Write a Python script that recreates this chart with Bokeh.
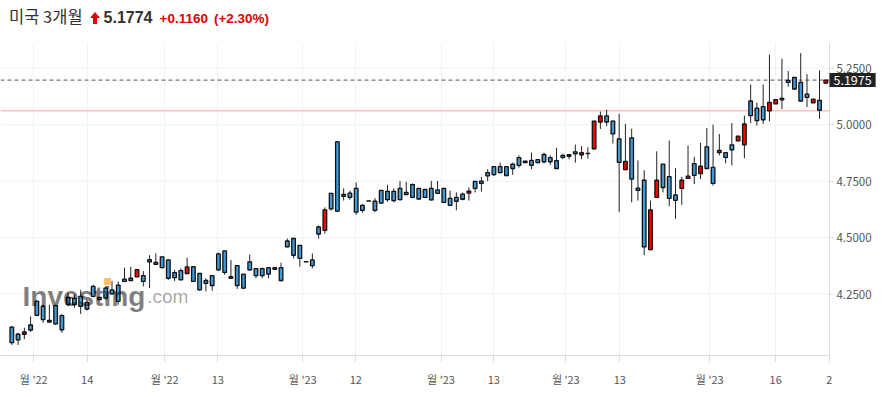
from bokeh.plotting import figure
from bokeh.models import (Label, Div, FixedTicker, NumeralTickFormatter, Range1d,
                          ColumnDataSource, LinearAxis)
from bokeh.layouts import column
from bokeh.embed import file_html
from bokeh.resources import INLINE

# ---- data (daily candles, oldest -> newest) ----
opens = [4.104, 4.072, 4.072, 4.113, 4.218, 4.196, 4.133, 4.199, 4.155, 4.235,
         4.230, 4.240, 4.213, 4.284, 4.235, 4.276, 4.269, 4.290, 4.316, 4.320,
         4.326, 4.332, 4.402, 4.390, 4.415, 4.401, 4.345, 4.354, 4.341, 4.371,
         4.341, 4.310, 4.332, 4.428, 4.441, 4.327, 4.376, 4.338, 4.393, 4.363,
         4.363, 4.367, 4.360, 4.367, 4.485, 4.496, 4.466, 4.394, 4.401, 4.547,
         4.532, 4.696, 4.924, 4.691, 4.697, 4.718, 4.643, 4.663, 4.661, 4.709,
         4.705, 4.705, 4.718, 4.700, 4.735, 4.718, 4.713, 4.718, 4.711, 4.718,
         4.674, 4.678, 4.693, 4.697, 4.749, 4.750, 4.788, 4.814, 4.814, 4.814,
         4.825, 4.854, 4.832, 4.842, 4.845, 4.868, 4.854, 4.841, 4.864, 4.860,
         4.880, 4.867, 4.873, 4.893, 5.012, 5.039, 5.016, 4.937, 4.801, 4.942,
         4.719, 4.754, 4.447, 4.678, 4.825, 4.770, 4.689, 4.718, 4.762, 4.828,
         4.784, 4.902, 4.811, 4.876, 4.876, 4.911, 4.928, 4.911, 5.105, 5.073,
         5.080, 5.061, 5.092, 5.117, 5.196, 5.209, 5.187, 5.135, 5.097, 5.108,
         5.184]
highs = [4.108, 4.079, 4.101, 4.151, 4.225, 4.203, 4.203, 4.203, 4.162, 4.254,
         4.247, 4.269, 4.225, 4.291, 4.236, 4.284, 4.309, 4.306, 4.367, 4.371,
         4.359, 4.352, 4.422, 4.430, 4.416, 4.401, 4.357, 4.364, 4.411, 4.372,
         4.341, 4.320, 4.335, 4.434, 4.442, 4.401, 4.376, 4.338, 4.425, 4.363,
         4.367, 4.367, 4.368, 4.389, 4.496, 4.499, 4.467, 4.394, 4.430, 4.554,
         4.634, 4.696, 4.927, 4.718, 4.708, 4.744, 4.649, 4.663, 4.675, 4.709,
         4.734, 4.718, 4.751, 4.747, 4.740, 4.718, 4.714, 4.751, 4.751, 4.718,
         4.708, 4.700, 4.700, 4.722, 4.751, 4.769, 4.803, 4.817, 4.832, 4.815,
         4.832, 4.864, 4.840, 4.876, 4.847, 4.876, 4.864, 4.898, 4.871, 4.868,
         4.912, 4.905, 4.900, 5.017, 5.058, 5.066, 5.019, 5.048, 5.004, 4.982,
         4.842, 4.798, 4.664, 4.882, 4.825, 4.930, 4.807, 4.769, 4.908, 4.858,
         4.920, 4.985, 5.000, 4.959, 4.876, 5.007, 4.950, 5.040, 5.178, 5.098,
         5.178, 5.310, 5.112, 5.292, 5.238, 5.210, 5.317, 5.224, 5.114, 5.241,
         5.199]
lows = [4.025, 4.025, 4.050, 4.082, 4.152, 4.123, 4.126, 4.113, 4.079, 4.196,
        4.189, 4.162, 4.177, 4.235, 4.225, 4.225, 4.247, 4.203, 4.305, 4.310,
        4.325, 4.284, 4.276, 4.381, 4.364, 4.313, 4.308, 4.312, 4.340, 4.303,
        4.265, 4.262, 4.265, 4.352, 4.335, 4.320, 4.273, 4.272, 4.352, 4.320,
        4.320, 4.320, 4.359, 4.306, 4.456, 4.408, 4.371, 4.393, 4.364, 4.496,
        4.518, 4.620, 4.613, 4.664, 4.668, 4.601, 4.610, 4.662, 4.613, 4.651,
        4.659, 4.656, 4.664, 4.689, 4.674, 4.668, 4.674, 4.664, 4.693, 4.654,
        4.640, 4.621, 4.665, 4.664, 4.700, 4.703, 4.750, 4.773, 4.784, 4.772,
        4.778, 4.810, 4.831, 4.803, 4.829, 4.829, 4.822, 4.803, 4.847, 4.847,
        4.832, 4.847, 4.850, 4.890, 4.981, 4.993, 4.917, 4.613, 4.798, 4.656,
        4.664, 4.423, 4.444, 4.678, 4.700, 4.639, 4.583, 4.645, 4.761, 4.737,
        4.759, 4.803, 4.730, 4.864, 4.829, 4.820, 4.927, 4.851, 5.007, 4.996,
        5.004, 5.015, 5.091, 5.069, 5.168, 5.154, 5.104, 5.078, 5.096, 5.026,
        5.183]
closes = [4.035, 4.047, 4.082, 4.091, 4.156, 4.137, 4.126, 4.118, 4.092, 4.203,
          4.203, 4.196, 4.184, 4.240, 4.225, 4.232, 4.251, 4.218, 4.306, 4.310,
          4.358, 4.306, 4.393, 4.382, 4.367, 4.320, 4.323, 4.313, 4.370, 4.306,
          4.269, 4.298, 4.288, 4.357, 4.346, 4.320, 4.288, 4.276, 4.357, 4.332,
          4.332, 4.338, 4.367, 4.310, 4.459, 4.422, 4.408, 4.393, 4.376, 4.516,
          4.623, 4.627, 4.617, 4.683, 4.678, 4.613, 4.621, 4.662, 4.621, 4.653,
          4.668, 4.664, 4.668, 4.691, 4.678, 4.671, 4.678, 4.667, 4.696, 4.656,
          4.643, 4.661, 4.670, 4.706, 4.718, 4.740, 4.773, 4.779, 4.788, 4.775,
          4.806, 4.820, 4.839, 4.820, 4.832, 4.836, 4.836, 4.806, 4.855, 4.867,
          4.871, 4.876, 4.872, 5.016, 5.039, 5.012, 4.959, 4.833, 4.838, 4.759,
          4.709, 4.459, 4.623, 4.754, 4.722, 4.674, 4.665, 4.754, 4.772, 4.776,
          4.816, 4.806, 4.740, 4.886, 4.855, 4.889, 4.949, 5.003, 5.040, 5.018,
          5.022, 5.099, 5.111, 5.110, 5.187, 5.158, 5.105, 5.121, 5.113, 5.064,
          5.1975]

last_price = 5.1975
prev_close = 5.0614

x_tick_pos = [3.51, 12.04, 24.43, 32.9, 46.47, 54.94, 68.55, 76.98, 88.48, 97.1, 111.47, 122.0, 130.55]
x_tick_labels = ["월 '22", "14", "월 '22", "13", "월 '23", "12", "월 '23", "13", "월 '23", "13", "월 '23", "16", "2"]
y_ticks = [4.25, 4.5, 4.75, 5.0, 5.25]

UP = "#ff0000"
DOWN = "#3f9ad9"

X_START, X_END = -1.805, 138.58   # visible index window
AXIS_X = 130.59                   # where the price axis sits

xs = list(range(len(opens)))
src = ColumnDataSource(dict(
    x=xs,
    o=opens, h=highs, l=lows, c=closes,
    top=[max(o, c) for o, c in zip(opens, closes)],
    bot=[min(o, c) for o, c in zip(opens, closes)],
    col=[UP if c > o else DOWN for o, c in zip(opens, closes)],
))

FONT = "Noto Sans CJK KR"

p = figure(width=879, height=347,
           x_range=Range1d(X_START, X_END), y_range=Range1d(3.978, 5.364),
           y_axis_location=None, output_backend="svg", toolbar_location=None,
           min_border_left=0, min_border_right=0, min_border_top=0, min_border_bottom=31,
           outline_line_color=None, background_fill_color="white", border_fill_color="white")

# grid: vertical lines at the date ticks, horizontal lines stop at the price axis
p.xgrid.ticker = FixedTicker(ticks=x_tick_pos)
p.xgrid.grid_line_color = "#f2f2f2"
p.ygrid.visible = False
p.segment(x0=[X_START] * len(y_ticks), x1=[AXIS_X] * len(y_ticks), y0=y_ticks, y1=y_ticks,
          line_color="#f2f2f2", line_width=1)

# x axis
p.xaxis.ticker = FixedTicker(ticks=x_tick_pos)
p.xaxis.bounds = (X_START, AXIS_X)
p.xaxis.major_label_overrides = {pos: lab for pos, lab in zip(x_tick_pos, x_tick_labels)}
p.xaxis.axis_line_color = "#dcdcdc"
p.xaxis.major_tick_line_color = "#dcdcdc"
p.xaxis.major_tick_out = 7
p.xaxis.major_tick_in = 0
p.xaxis.minor_tick_line_color = None
p.xaxis.major_label_standoff = 8
p.xaxis.major_label_text_font = FONT
p.xaxis.major_label_text_font_size = "11px"
p.xaxis.major_label_text_color = "#555555"

# price axis (right side)
yaxis = LinearAxis(fixed_location=AXIS_X, ticker=FixedTicker(ticks=y_ticks),
                   formatter=NumeralTickFormatter(format="0.0000"),
                   axis_line_color="#dcdcdc", major_tick_line_color="#dcdcdc",
                   major_tick_out=4, major_tick_in=0, minor_tick_line_color=None,
                   major_label_standoff=3, major_label_text_font=FONT,
                   major_label_text_font_size="11.5px", major_label_text_color="#555555")
p.add_layout(yaxis, "right")

# reference lines (previous close, last price)
p.segment(x0=[X_START], x1=[AXIS_X], y0=[prev_close], y1=[prev_close],
          line_color="#ffc2c2", line_width=1.5)
p.segment(x0=[X_START], x1=[AXIS_X], y0=[last_price], y1=[last_price],
          line_color="#555555", line_width=1, line_dash="4 3")

# candles
p.segment(x0="x", y0="l", x1="x", y1="h", source=src, line_color="#222222", line_width=1)
p.vbar(x="x", width=0.58, top="top", bottom="bot", source=src,
       fill_color="col", line_color="#111111", line_width=1.3)

# watermark
WM_Y = 4.2412
p.add_layout(Label(x=1.71, y=WM_Y, text="Investing", text_font="Liberation Sans",
                   text_font_size="28px", text_font_style="bold", text_color="black",
                   text_alpha=0.5, text_baseline="alphabetic"))
p.add_layout(Label(x=15.28, y=4.307, text="■", text_font="DejaVu Sans",
                   text_font_size="9px", text_color="#f7a833", text_alpha=0.75,
                   text_align="center", text_baseline="middle"))
p.add_layout(Label(x=21.62, y=WM_Y, text=".com", text_font="Liberation Sans",
                   text_font_size="19px", text_color="black", text_alpha=0.35,
                   text_baseline="alphabetic"))

# last price tag
p.add_layout(Label(x=AXIS_X, y=last_price, text="5.1975", text_font=FONT,
                   text_font_size="12.5px", text_color="white", text_align="left",
                   text_baseline="middle", background_fill_color="#222222",
                   padding=(4, 2)))

arrow_svg = ("<svg width=\"10\" height=\"12\" style=\"vertical-align:-1px;margin-left:7px;\">"
             "<polygon points=\"5,0 10,6 7,6 7,12 3,12 3,6 0,6\" fill=\"#e00000\"/></svg>")

header = Div(
    text=("<div style=\"white-space:nowrap;line-height:18px;padding-left:9px;padding-top:7px;\">"
          "<span style=\"font-family:'Noto Sans CJK KR';font-size:16.5px;color:#333;\">미국 3개월</span>"
          + arrow_svg +
          "<span style=\"font-family:'Liberation Sans';font-weight:bold;font-size:16px;color:#333;margin-left:4px;\">5.1774</span>"
          "<span style=\"font-family:'Liberation Sans';font-weight:bold;font-size:13.5px;color:#e00000;margin-left:7px;\">+0.1160</span>"
          "<span style=\"font-family:'Liberation Sans';font-weight:bold;font-size:13.5px;color:#e00000;margin-left:6px;\">(+2.30%)</span>"
          "</div>"),
    width=879, height=42, margin=(0, 0, 0, 0))

layout = column(header, p, spacing=0)

open("out.html", "w").write(file_html(layout, INLINE))
